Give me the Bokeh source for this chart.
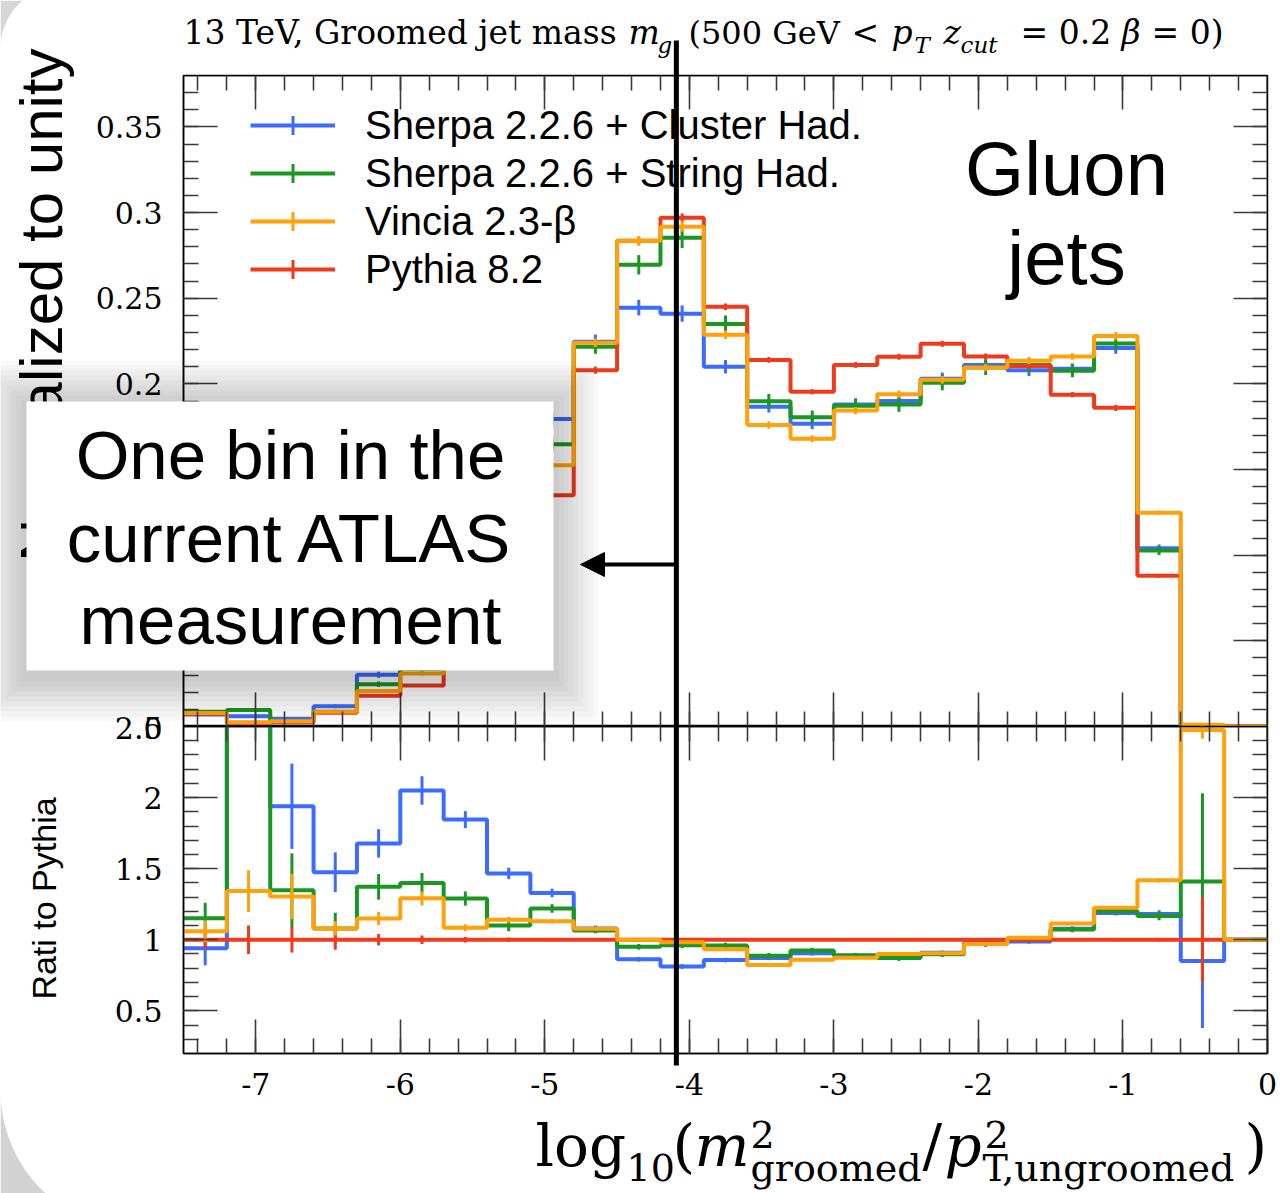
import numpy as np
from bokeh.plotting import figure
from bokeh.models import (Range1d, LinearAxis, SingleIntervalTicker, FixedTicker, CustomJSTickFormatter,
                          CustomLabelingPolicy, Label, Arrow, NormalHead, Legend, LegendItem,
                          ColumnDataSource)
from bokeh.core.properties import value
from bokeh.layouts import column
from bokeh.embed import file_html
from bokeh.resources import INLINE

# ---------------- data ----------------
bin_edges = [-7.5, -7.2, -6.9, -6.6, -6.3, -6.0, -5.7, -5.4, -5.1, -4.8, -4.5, -4.2, -3.9,
             -3.6, -3.3, -3.0, -2.7, -2.4, -2.1, -1.8, -1.5, -1.2, -0.9, -0.6, -0.3, 0.0]

series_names = ["Sherpa 2.2.6 + Cluster Had.", "Sherpa 2.2.6 + String Had.",
                "Vincia 2.3-\u03b2", "Pythia 8.2"]

sherpa_cluster = [0.00705, 0.0060, 0.00446, 0.0118, 0.0302, 0.0492, 0.0738, 0.110, 0.1795, 0.2246,
                  0.2445, 0.241, 0.210, 0.1867, 0.1767, 0.188, 0.190, 0.203, 0.211, 0.208,
                  0.2088, 0.221, 0.104, 0.00034, 0.0]
sherpa_string = [0.00863, 0.0097, 0.0031, 0.00864, 0.0247, 0.0336, 0.0516, 0.0825, 0.1647, 0.2217,
                 0.2695, 0.2853, 0.235, 0.1898, 0.1805, 0.1873, 0.188, 0.2007, 0.2095, 0.211,
                 0.2077, 0.2235, 0.1027, 0.000564, 0.0]
vincia = [0.00795, 0.00255, 0.0030, 0.00864, 0.0207, 0.031, 0.0434, 0.0855, 0.1525, 0.224,
          0.2835, 0.2917, 0.2287, 0.176, 0.168, 0.1844, 0.194, 0.2024, 0.2095, 0.2135,
          0.216, 0.228, 0.1248, 0.00099, 0.0]
pythia = [0.0075, 0.0019, 0.0023, 0.0080, 0.018, 0.024, 0.040, 0.075, 0.135, 0.208,
          0.2835, 0.297, 0.245, 0.214, 0.1954, 0.211, 0.2158, 0.2234, 0.216, 0.2105,
          0.1937, 0.186, 0.088, 0.0004, 0.0]

# uncertainties relative to the Pythia value (as seen in the ratio panel)
sherpa_cluster_err = [0.12, 0.40, 0.30, 0.14, 0.10, 0.10, 0.06, 0.04, 0.03, 0.02, 0.016, 0.016, 0.016,
                      0.016, 0.016, 0.016, 0.016, 0.016, 0.016, 0.016, 0.016, 0.018, 0.025, 0.47, 0.0]
sherpa_string_err = [0.11, 0.60, 0.26, 0.11, 0.09, 0.07, 0.05, 0.04, 0.03, 0.02, 0.02, 0.02, 0.02,
                     0.02, 0.02, 0.02, 0.02, 0.02, 0.02, 0.02, 0.02, 0.022, 0.03, 0.62, 0.0]
vincia_err = [0.075, 0.147, 0.16, 0.05, 0.047, 0.05, 0.025, 0.02, 0.015, 0.012, 0.01, 0.01, 0.01,
              0.01, 0.01, 0.01, 0.01, 0.01, 0.01, 0.01, 0.01, 0.012, 0.015, 0.06, 0.0]
pythia_err = [0.065, 0.10, 0.09, 0.07, 0.04, 0.03, 0.02, 0.015, 0.012, 0.01, 0.008, 0.008, 0.008,
              0.008, 0.008, 0.008, 0.008, 0.008, 0.008, 0.008, 0.008, 0.01, 0.012, 0.30, 0.0]

series_colors = ["#3b6cff", "#1a9622", "#ffa10a", "#ee3b1c"]

main_yticks = [0.05, 0.1, 0.15, 0.2, 0.25, 0.3, 0.35]
ratio_yticks = [0.5, 1.0, 1.5, 2.0]

atlas_bin_edge = -4.09       # the vertical line drawn on the slide
x_start, x_end = -7.5, 0.0
main_y = (0.0, 0.38)
ratio_y = (0.2, 2.5)

# ---------------- layout geometry (pixels) ----------------
W, H = 1280, 1193
FL, FR = 183, 1267           # frame left/right
MT, SPLIT, RB = 75, 726, 1053

PXX = (FR - FL) / (x_end - x_start)
PYM = (SPLIT - MT) / (main_y[1] - main_y[0])


def dx(px):
    return x_start + (px - FL) / PXX


def dym(py):
    return main_y[0] + (SPLIT - py) / PYM


edges = np.array(bin_edges)
centers = 0.5 * (edges[:-1] + edges[1:])
ref = np.array(pythia)

fmt_code = "var s = tick.toFixed(2); return s.replace(/0+$/, '').replace(/\\.$/, '');"
hide_code = "for (const i of Array.from(indices)) { indices.unset(i); } return indices;"


def make_axis(ticker, labels, standoff=0, fixed=None):
    ax = LinearAxis(ticker=ticker)
    ax.axis_line_color = "black"
    ax.axis_line_width = 1.5
    ax.major_tick_in = 34
    ax.major_tick_out = 0
    ax.minor_tick_in = 15
    ax.minor_tick_out = 0
    ax.major_tick_line_color = "#3a3a3a"
    ax.minor_tick_line_color = "#3a3a3a"
    ax.major_tick_line_width = 1.6
    ax.minor_tick_line_width = 1.6
    if labels:
        ax.formatter = CustomJSTickFormatter(code=fmt_code)
        ax.major_label_text_font = "DejaVu Serif"
        ax.major_label_text_font_size = "30px"
        ax.major_label_text_color = "black"
        ax.major_label_standoff = standoff
    else:
        ax.major_label_policy = CustomLabelingPolicy(code=hide_code)
        ax.major_label_text_font_size = "1px"
        ax.major_label_standoff = 0
        ax.fixed_location = fixed
    return ax


def xticker():
    return SingleIntervalTicker(interval=1, num_minor_ticks=5)


def main_yticker():
    return FixedTicker(ticks=main_yticks, minor_ticks=list(np.round(np.arange(0.01, 0.38, 0.01), 2)))


def ratio_yticker():
    return FixedTicker(ticks=ratio_yticks, minor_ticks=list(np.round(np.arange(0.3, 2.5, 0.1), 1)))


# ---------------- main panel ----------------
main = figure(width=W, height=SPLIT, x_range=Range1d(x_start, x_end), y_range=Range1d(*main_y),
              x_axis_type=None, y_axis_type=None, output_backend="svg", toolbar_location=None,
              min_border_left=FL, min_border_right=W - FR, min_border_top=MT, min_border_bottom=0,
              outline_line_color="black", outline_line_width=1.5)
main.add_layout(make_axis(main_yticker(), True, 21), "left")
main.add_layout(make_axis(main_yticker(), False, fixed=x_end), "right")
main.add_layout(make_axis(xticker(), False, fixed=main_y[1]), "above")
main.add_layout(make_axis(xticker(), False, fixed=main_y[0]), "below")

ratio = figure(width=W, height=H - SPLIT, x_range=main.x_range, y_range=Range1d(*ratio_y),
               x_axis_type=None, y_axis_type=None, output_backend="svg", toolbar_location=None,
               min_border_left=FL, min_border_right=W - FR, min_border_top=0, min_border_bottom=H - RB,
               outline_line_color="black", outline_line_width=1.5)
ratio.add_layout(make_axis(ratio_yticker(), True, 21), "left")
ratio.add_layout(make_axis(ratio_yticker(), False, fixed=x_end), "right")
ratio.add_layout(make_axis(xticker(), False, fixed=ratio_y[1]), "above")
ratio.add_layout(make_axis(xticker(), True, 19), "below")

all_vals = [sherpa_cluster, sherpa_string, vincia, pythia]
all_errs = [sherpa_cluster_err, sherpa_string_err, vincia_err, pythia_err]
draw_order = [0, 1, 3, 2]
legend_items = {}
for i in draw_order:
    v = np.array(all_vals[i])
    e = np.array(all_errs[i])
    c = series_colors[i]
    r = np.divide(v, ref, out=np.ones_like(v), where=ref > 0)
    step_r = main.step(x=edges, y=np.append(v, v[-1]), mode="after", line_color=c, line_width=4)
    main.segment(x0=centers, y0=v - e * ref, x1=centers, y1=v + e * ref, line_color=c, line_width=3)
    # a point far outside the ranges, only so that the legend shows the error-bar cross
    tick_r = main.scatter(x="x", y="y", source=ColumnDataSource(dict(x=[-100.0], y=[-100.0])),
                          marker="cross", size=30, line_color=c, line_width=3)
    legend_items[i] = LegendItem(label=series_names[i], renderers=[step_r, tick_r])
    ratio.step(x=edges, y=np.append(r, r[-1]), mode="after", line_color=c, line_width=4)
    ratio.segment(x0=centers, y0=r - e, x1=centers, y1=r + e, line_color=c, line_width=3)

legend = Legend(items=[legend_items[i] for i in range(4)], location=(250 - FL, SPLIT - 293),
                glyph_width=85, glyph_height=48, label_height=48, label_standoff=30, spacing=0,
                padding=0, margin=0, border_line_color=None, background_fill_alpha=0,
                label_text_font="Liberation Sans", label_text_font_size="40px", label_text_color="black")
main.add_layout(legend)

main.add_layout(Label(x=dx(1066), y=dym(168), text="Gluon", text_align="center",
                      text_baseline="middle", text_font="Liberation Sans", text_font_size="76px",
                      text_color="black"))
main.add_layout(Label(x=dx(1066), y=dym(257), text="jets", text_align="center",
                      text_baseline="middle", text_font="Liberation Sans", text_font_size="76px",
                      text_color="black"))

main.add_layout(Arrow(end=NormalHead(size=24, fill_color="black", line_color="black"),
                      x_start=atlas_bin_edge, y_start=dym(564), x_end=dx(580), y_end=dym(564),
                      line_width=4, line_color="black"))

# ---------------- transparent overlay for the slide annotations and outer texts ----------------
overlay = figure(width=W, height=H, x_range=Range1d(0, W), y_range=Range1d(H, 0),
                 x_axis_type=None, y_axis_type=None, output_backend="svg", toolbar_location=None,
                 min_border=0, outline_line_color=None, background_fill_alpha=0, border_fill_alpha=0,
                 margin=(-H, 0, 0, 0), frame_align=False)


def otext(txt, px, py, size, font="DejaVu Serif", style="normal", align="left", angle=0.0):
    overlay.add_layout(Label(x=px, y=py, text=txt, text_align=align, text_baseline="middle",
                             text_font=font, text_font_style=style, text_font_size=size,
                             text_color="black", angle=angle))


# slide corners (grey background behind the rounded slide)
t_bl = np.linspace(0, 0.827, 25)
overlay.patch(x=np.concatenate([[0], 140 - 140 * np.cos(t_bl), [0]]),
              y=np.concatenate([[1090], 1090 + 140 * np.sin(t_bl), [1193]]),
              fill_color="#d2d2d2", line_color=None)
t_tl = np.linspace(0, 0.859, 25)
overlay.patch(x=np.concatenate([[0], 63.4 - 63.4 * np.cos(t_tl), [0]]),
              y=np.concatenate([[48], 48 - 63.4 * np.sin(t_tl), [0]]),
              fill_color="#d6d6d6", line_color=None)

# main y axis title (a glyph, so that the callout box can hide part of it)
overlay.text(x=[41], y=[48], text=["Normalized to unity"], angle=np.pi / 2, text_align="right",
             text_baseline="middle", text_font=value("Liberation Sans"), text_font_size=value("60px"),
             text_color="black")

# title
title_parts = [
    ("13 TeV, Groomed jet mass", 183, 32, "normal", "33px"),
    ("m", 628, 32, "italic", "33px"),
    ("g", 657, 44, "italic", "23px"),
    ("(500 GeV", 688, 32, "normal", "32px"),
    ("<", 851, 32, "normal", "33px"),
    ("p", 891, 32, "italic", "33px"),
    ("T", 914, 44, "italic", "23px"),
    ("z", 943, 32, "italic", "33px"),
    ("cut", 960, 44, "italic", "23px"),
    ("= 0.2", 1020, 32, "normal", "33px"),
    ("\u03b2", 1121, 32, "italic", "33px"),
    ("= 0)", 1151, 32, "normal", "33px"),
]
for txt, px, py, style, size in title_parts:
    otext(txt, px, py, size, style=style)

otext("Rati to Pythia", 43, 898, "34px", font="Liberation Sans", align="center", angle=np.pi / 2)

# overlapping labels at the panel junction
otext("2.5", 162, 727, "30px", align="right")
otext("0", 162, 727, "30px", align="right")

# x axis title
xlabel_parts = [
    ("log", 535, 1145, "normal", "58px"),
    ("10", 626, 1167, "normal", "38px"),
    ("(", 672, 1145, "normal", "58px"),
    ("m", 694, 1145, "italic", "58px"),
    ("2", 750, 1134, "normal", "38px"),
    ("groomed", 750, 1167, "normal", "38px"),
    ("/", 922, 1145, "normal", "58px"),
    ("p", 944, 1145, "italic", "58px"),
    ("2", 984, 1134, "normal", "38px"),
    ("T,ungroomed", 982, 1167, "normal", "38px"),
    (")", 1244, 1145, "normal", "58px"),
]
for txt, px, py, style, size in xlabel_parts:
    otext(txt, px, py, size, style=style)

# vertical line marking the ATLAS bin (spans both panels)
line_px = FL + (atlas_bin_edge - x_start) * PXX
overlay.segment(x0=[line_px], y0=[40], x1=[line_px], y1=[1065], line_color="black", line_width=5)

# callout box with soft shadow
box_l, box_r, box_t, box_b = 26, 553, 401, 670
for k in range(9, 0, -1):
    g = 5 * k
    overlay.quad(left=[box_l - g], right=[box_r + g], top=[box_t - g + 4], bottom=[box_b + g + 6],
                 fill_color="black", fill_alpha=0.022, line_color=None)
overlay.quad(left=[box_l], right=[box_r], top=[box_t], bottom=[box_b], fill_color="white",
             line_color=None)
for txt, py in [("One bin in the", 455), ("current ATLAS", 538), ("measurement", 620)]:
    otext(txt, 290, py, "69px", font="Liberation Sans", align="center")

layout = column(main, ratio, overlay, spacing=0)
open("out.html", "w").write(file_html(layout, INLINE))
